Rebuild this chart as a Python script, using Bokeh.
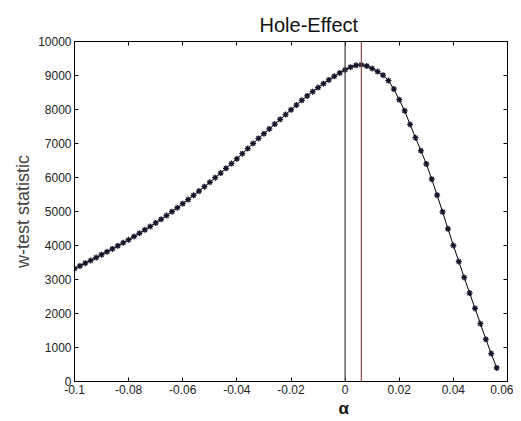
from bokeh.plotting import figure
from bokeh.models import (Range1d, FixedTicker, LinearAxis, Span, Title, CustomJSTickFormatter)
from bokeh.embed import file_html
from bokeh.resources import INLINE

# ---- data ----
alpha = [round(-0.1 + 0.002 * k, 3) for k in range(79)]
w_stat = [
    3320, 3400, 3480, 3560, 3645, 3730, 3815, 3900, 3990, 4080,   # -0.100 .. -0.082
    4170, 4265, 4360, 4460, 4560, 4665, 4770, 4880, 4995, 5110,   # -0.080 .. -0.062
    5230, 5350, 5475, 5600, 5730, 5860, 5995, 6130, 6270, 6410,   # -0.060 .. -0.042
    6550, 6700, 6850, 7000, 7150, 7290, 7430, 7570, 7710, 7850,   # -0.040 .. -0.022
    7990, 8130, 8270, 8400, 8525, 8645, 8760, 8870, 8975, 9075,   # -0.020 .. -0.002
    9170, 9245, 9300, 9315, 9280, 9205, 9115, 9010, 8850, 8600,   #  0.000 ..  0.018
    8290, 7960, 7560, 7170, 6790, 6400, 5950, 5480, 4990, 4490,   #  0.020 ..  0.038
    4000, 3530, 3060, 2600, 2150, 1700, 1240, 820, 400,           #  0.040 ..  0.056
]
vline_x = [0.0, 0.006]
vline_colors = ["#3a3a3a", "#8a4a4a"]

x_ticks = [-0.1, -0.08, -0.06, -0.04, -0.02, 0.0, 0.02, 0.04, 0.06]
x_tick_labels = ["-0.1", "-0.08", "-0.06", "-0.04", "-0.02", "0", "0.02", "0.04", "0.06"]
y_ticks = [0, 1000, 2000, 3000, 4000, 5000, 6000, 7000, 8000, 9000, 10000]

FONT = "Liberation Sans"

p = figure(width=513, height=420, output_backend="svg", toolbar_location=None,
           x_range=Range1d(-0.1, 0.06), y_range=Range1d(0, 10000),
           min_border_left=74, min_border_right=6,
           min_border_top=41, min_border_bottom=39)

p.xgrid.visible = False
p.ygrid.visible = False
p.outline_line_color = "black"
p.outline_line_width = 1
p.background_fill_color = "white"
p.border_fill_color = "white"

xa = p.xaxis[0]
xa.ticker = FixedTicker(ticks=x_ticks)
xa.major_label_overrides = {t: l for t, l in zip(x_ticks, x_tick_labels)}

ya = p.yaxis[0]
ya.ticker = FixedTicker(ticks=y_ticks)
ya.axis_label = "w-test statistic"
ya.axis_label_text_font = FONT
ya.axis_label_text_font_size = "18px"
ya.axis_label_text_font_style = "normal"
ya.axis_label_standoff = 2

for ax in (xa, ya):
    ax.major_label_text_font = FONT
    ax.major_label_text_font_size = "12px"
    ax.major_label_text_color = "#222222"
    ax.major_label_standoff = 3
    ax.major_tick_in = 4
    ax.major_tick_out = 0
    ax.minor_tick_line_color = None
    ax.axis_line_color = "black"
    ax.major_tick_line_color = "black"

blank = CustomJSTickFormatter(code="return ''")
ra = LinearAxis(ticker=FixedTicker(ticks=y_ticks), formatter=blank,
                major_tick_in=4, major_tick_out=0, minor_tick_line_color=None,
                major_label_standoff=0)
ta = LinearAxis(ticker=FixedTicker(ticks=x_ticks), formatter=blank,
                major_tick_in=4, major_tick_out=0, minor_tick_line_color=None,
                major_label_standoff=0)
p.add_layout(ra, "right")
p.add_layout(ta, "above")

p.add_layout(Title(text="Hole-Effect", align="left", offset=185, standoff=12,
                   text_font=FONT, text_font_size="20px", text_font_style="normal",
                   text_color="#111111"), "above")

# x-axis label (sits under the 0 tick in the reference)
p.add_layout(Title(text="α", align="left", offset=264, standoff=0,
                   text_font=FONT, text_font_size="17px", text_font_style="bold",
                   text_color="#111111"), "below")

for vx, vc in zip(vline_x, vline_colors):
    p.add_layout(Span(location=vx, dimension="height", line_color=vc, line_width=1.2))

p.line(alpha, w_stat, line_color="black", line_width=1)
p.scatter(alpha, w_stat, marker="asterisk", size=6, line_color="#15152a", line_width=1.3)

open("out.html", "w").write(file_html(p, INLINE))
